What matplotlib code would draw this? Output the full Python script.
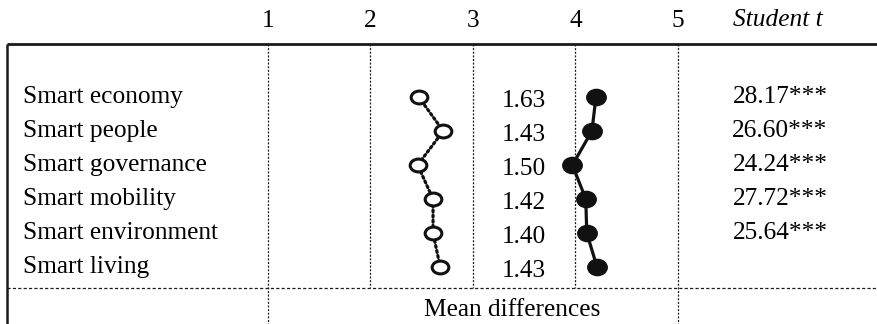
import matplotlib
matplotlib.use("Agg")
import matplotlib.pyplot as plt
from matplotlib.path import Path
from matplotlib.transforms import Affine2D

# ---- data ----
categories = ["Smart economy", "Smart people", "Smart governance",
              "Smart mobility", "Smart environment", "Smart living"]
open_values = [2.47, 2.71, 2.46, 2.61, 2.61, 2.68]     # hollow markers (dotted)
filled_values = [4.20, 4.16, 3.97, 4.10, 4.11, 4.21]   # filled markers (solid)
mean_diff_labels = ["1.63", "1.43", "1.50", "1.42", "1.40", "1.43"]
student_t_labels = ["28.17***", "26.60***", "24.24***", "27.72***", "25.64***", ""]
scale_ticks = [1, 2, 3, 4, 5]
header_t = "Student t"
footer_label = "Mean differences"

plt.rcParams['font.family'] = ['Liberation Serif', 'DejaVu Serif']
FS = 18.3

fig = plt.figure(figsize=(8.78, 3.24), dpi=100)
ax = fig.add_axes([0, 0, 1, 1])
# x: scale units, 1 -> 268px, 5 -> 678px ; y: row index, row0 -> 97px, spacing 34px
px_per_unit = 102.5
ax.set_xlim(1 - 268 / px_per_unit, 1 + (878 - 268) / px_per_unit)
ax.set_ylim((324 - 97) / 34, -97 / 34)
ax.axis("off")

def ypx(p):
    return (p - 97) / 34

def xpx(p):
    return 1 + (p - 268) / px_per_unit

y_top = ypx(44)
y_bot = ypx(288)
y_end = ypx(324)
x_left = xpx(7)
x_right = xpx(878)

# frame lines
ax.plot([x_left, x_right], [y_top, y_top], color="#1a1a1a", lw=2.0,
        solid_capstyle="butt")
ax.plot([x_left, x_left], [y_top, y_end], color="#1a1a1a", lw=1.8,
        solid_capstyle="butt")
ax.plot([x_left, x_right], [y_bot, y_bot], color="#1a1a1a", lw=0.9,
        linestyle=(0, (2.5, 1.8)))
for t in scale_ticks:
    y2 = y_end if t in (scale_ticks[0], scale_ticks[-1]) else y_bot
    ax.plot([t, t], [y_top, y2], color="#1a1a1a", lw=0.9,
            linestyle=(0, (1.6, 1.3)))

# header
for t in scale_ticks:
    ax.text(t, ypx(21), str(t), ha="center", va="center", fontsize=FS)
ax.text(xpx(778), ypx(20), header_t, ha="center", va="center",
        fontsize=FS, style="italic")

rows = list(range(len(categories)))

# row labels and value columns
for r, cat in enumerate(categories):
    ax.text(xpx(23), r, cat, ha="left", va="center", fontsize=FS)
    ax.text(3.5, r + 0.12, mean_diff_labels[r], ha="center", va="center",
            fontsize=FS)
    if student_t_labels[r]:
        ax.text(xpx(780), r, student_t_labels[r], ha="center", va="center",
                fontsize=FS)

ax.text(xpx(512), ypx(310), footer_label, ha="center", va="center",
        fontsize=FS)

# ellipse markers
circ = Path.unit_circle()
open_marker = Affine2D().scale(1.3, 1.0).transform_path(circ)
filled_marker = Affine2D().scale(1.2, 1.0).transform_path(circ)

ax.plot(open_values, rows, color="#111111", lw=2.3, linestyle=(0, (0.6, 1.0)),
        dash_capstyle="round", zorder=2)
ax.plot(open_values, rows, linestyle="none", marker=open_marker, ms=12,
        mfc="white", mec="#111111", mew=2.2, zorder=3)
ax.plot(filled_values, rows, color="#111111", lw=2.3, zorder=2)
ax.plot(filled_values, rows, linestyle="none", marker=filled_marker, ms=14,
        mfc="#111111", mec="#111111", mew=1.0, zorder=3)

fig.savefig("out.png", dpi=100)
